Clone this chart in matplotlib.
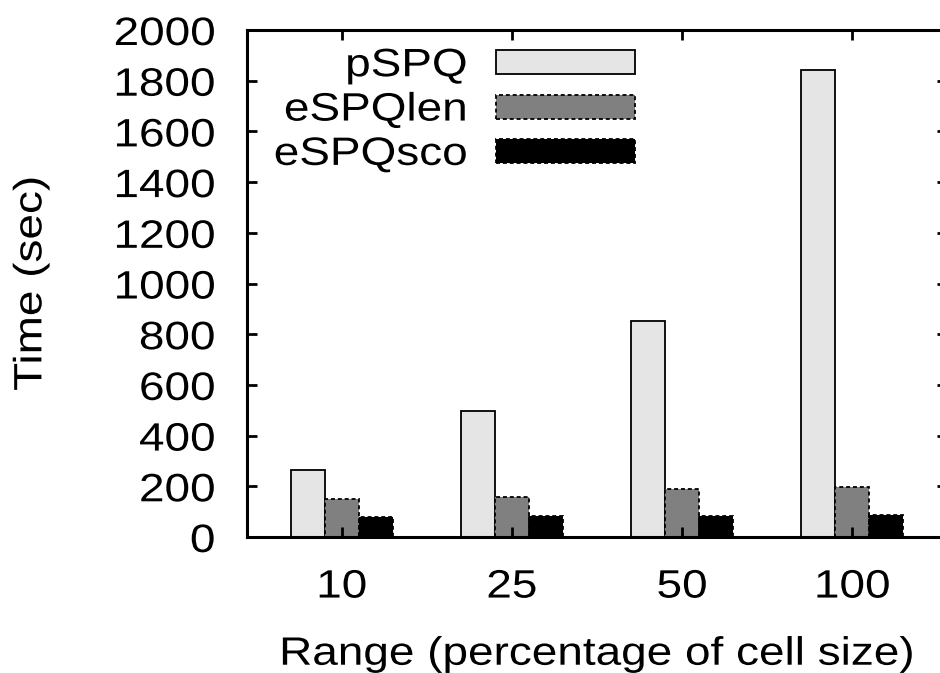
import matplotlib
matplotlib.use("Agg")
import matplotlib.pyplot as plt
import numpy as np
from matplotlib.patheffects import AbstractPathEffect
from matplotlib.transforms import Affine2D

plt.rcParams["font.family"] = ["Liberation Sans", "DejaVu Sans"]

ranges = ["10", "25", "50", "100"]
series = ["pSPQ", "eSPQlen", "eSPQsco"]
pspq = [266, 497, 852, 1842]
espq_len = [150, 159, 189, 198]
espq_sco = [80, 83, 83, 85]

face = ["#e5e5e5", "#808080", "#000000"]
style = ["-", (0, (2.2, 1.6)), (0, (2.2, 1.6))]
FS = 28.5


class Widen(AbstractPathEffect):
    """Stretch glyphs sideways (the old gnuplot Helvetica runs wide)."""

    def __init__(self, sx=1.16, anchor=0.5):
        super().__init__()
        self.sx = sx
        self.anchor = anchor

    def draw_path(self, renderer, gc, tpath, affine, rgbFace=None):
        ext = tpath.get_extents()
        cx = ext.x0 + self.anchor * (ext.x1 - ext.x0)
        t = Affine2D().translate(-cx, 0).scale(self.sx, 1).translate(cx, 0) + affine
        renderer.draw_path(gc, tpath, t, rgbFace)


fig = plt.figure(figsize=(9.4, 6.73), dpi=100)
ax = fig.add_axes([247 / 940, 136 / 673, 700 / 940, 507 / 673])

x = np.arange(len(ranges))
w = 0.2
for i, (vals, name) in enumerate(zip([pspq, espq_len, espq_sco], series)):
    ax.bar(x + (i - 1) * w, vals, width=w, color=face[i], edgecolor="black",
           linewidth=1.3, linestyle=style[i], label=name)

ax.set_xlim(-0.557, 3.557)
ax.set_ylim(0, 2000)
ax.set_yticks(np.arange(0, 2001, 200))
ax.set_xticks(x)
ax.set_xticklabels(ranges)
ax.tick_params(direction="in", length=7, width=2, labelsize=FS,
               top=True, right=True)
ax.tick_params(axis="x", pad=22)
ax.tick_params(axis="y", pad=23)
for s in ax.spines.values():
    s.set_linewidth(2.2)

ax.set_ylabel("Time (sec)", fontsize=FS, labelpad=56)
ax.set_xlabel("Range (percentage of cell size)", fontsize=FS, labelpad=21)

leg = ax.legend(loc="upper right", bbox_to_anchor=(0.554, 0.968), frameon=False,
                markerfirst=False, fontsize=FS, handlelength=3.5, handleheight=0.56,
                handletextpad=0.73, labelspacing=0.16, borderpad=0, borderaxespad=0)

for lab in ax.get_xticklabels():
    lab.set_path_effects([Widen(anchor=0.5)])
for lab in ax.get_yticklabels():
    lab.set_path_effects([Widen(anchor=1.0)])
for t in leg.get_texts():
    t.set_path_effects([Widen(anchor=1.0)])
ax.xaxis.label.set_path_effects([Widen(anchor=0.5)])
ax.yaxis.label.set_path_effects([Widen(anchor=0.5)])

fig.savefig("out.png", dpi=100)
